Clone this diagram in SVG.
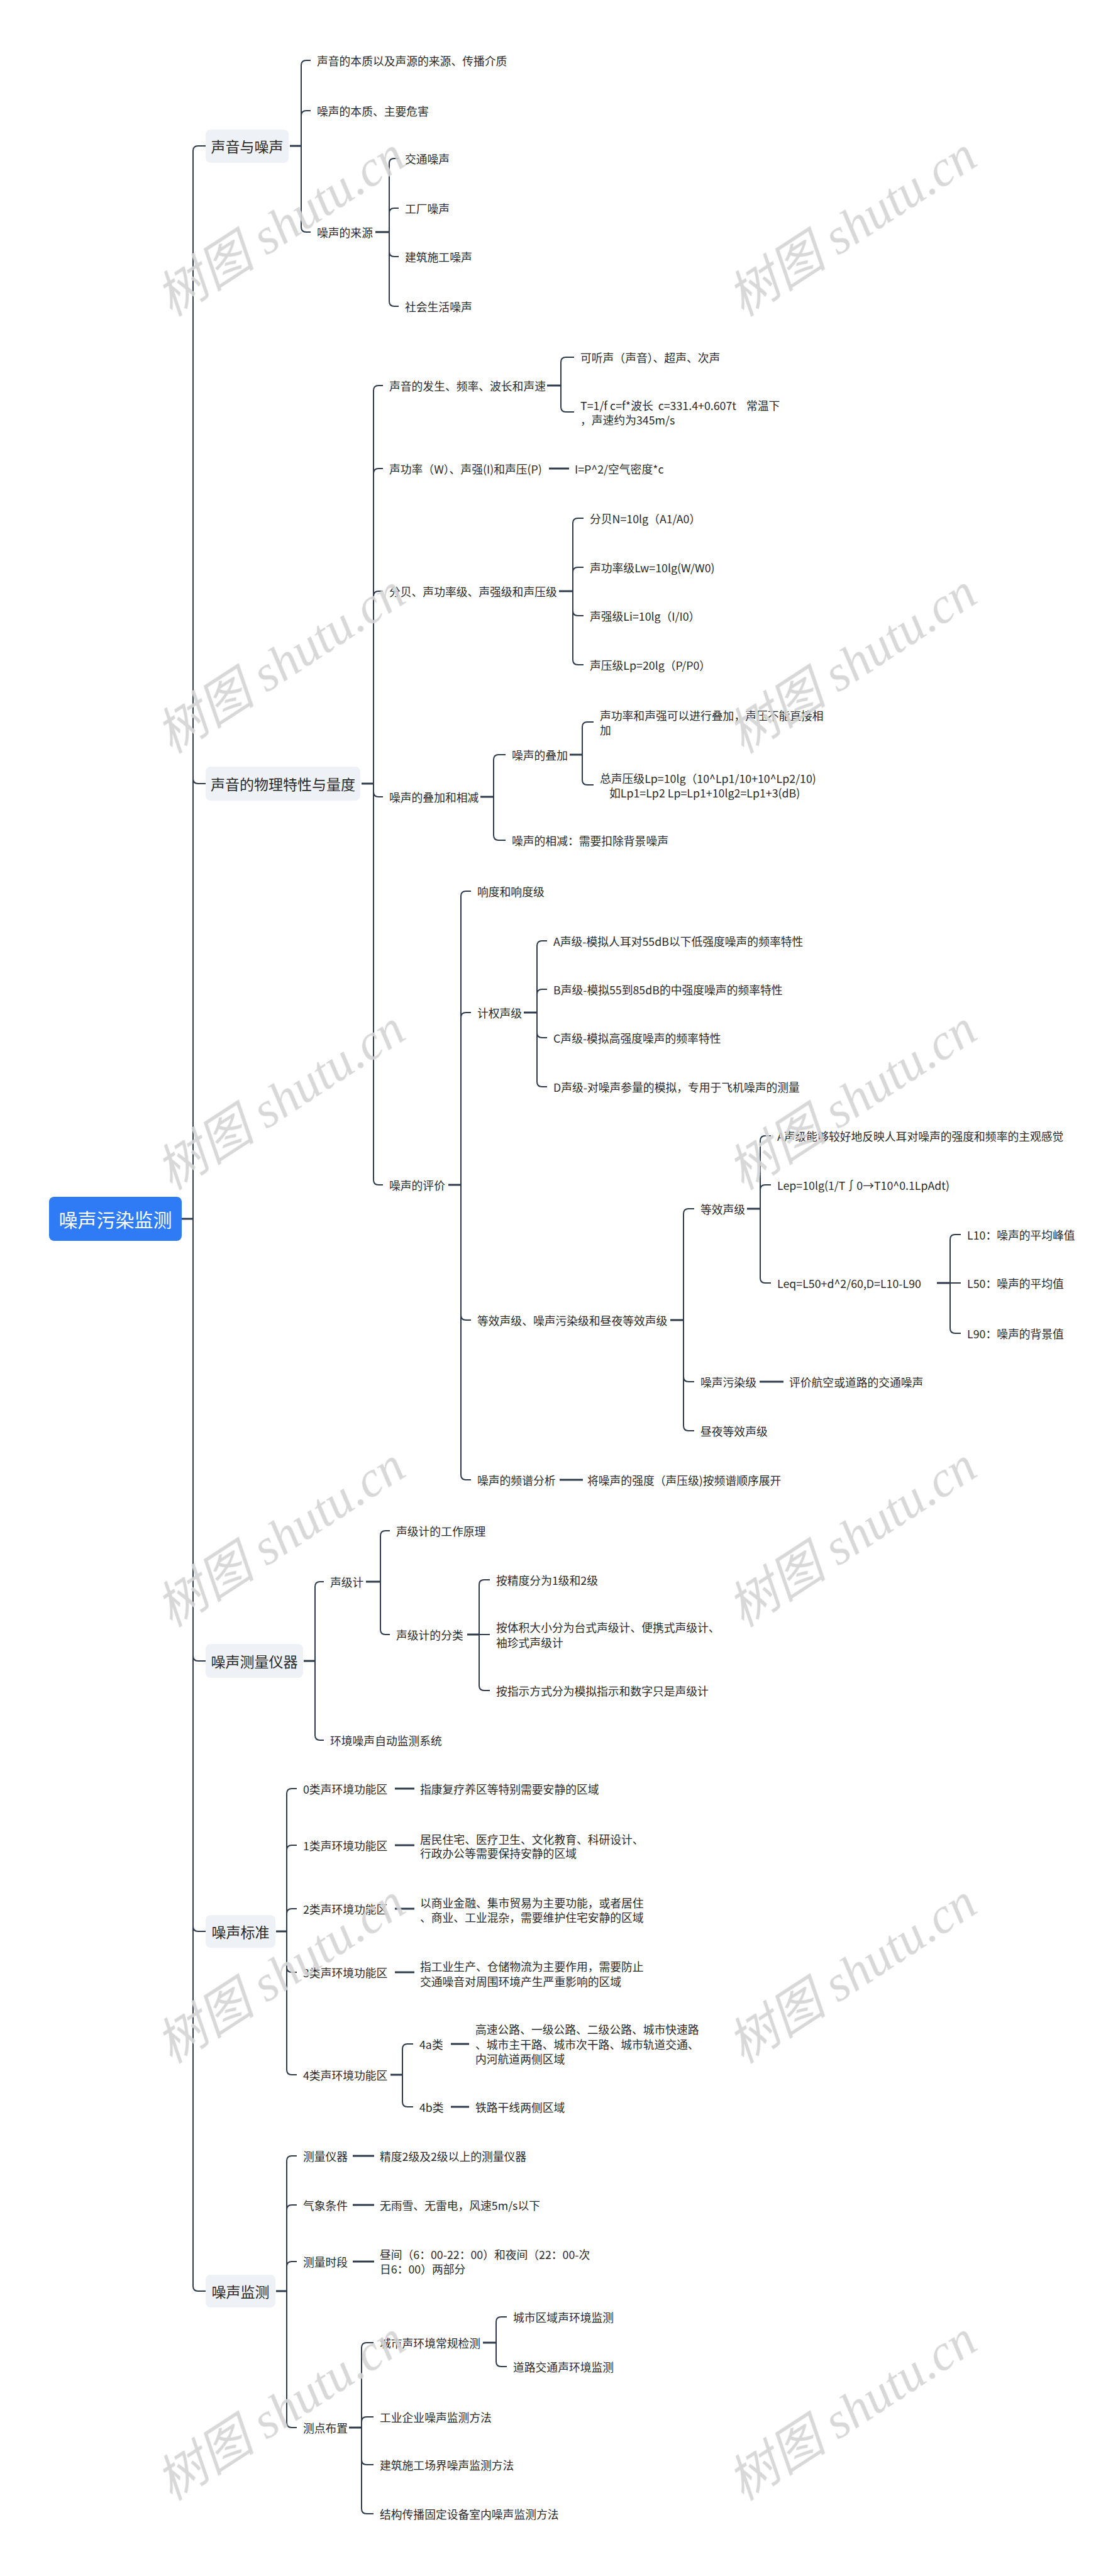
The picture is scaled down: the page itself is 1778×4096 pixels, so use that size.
<svg xmlns="http://www.w3.org/2000/svg" width="1778" height="4096" viewBox="0 0 1778 4096">
<style>
.t{font-family:"Noto Sans CJK SC","Noto Sans",sans-serif;font-size:17.8px;fill:#2a2a2a;dominant-baseline:central}
.t tspan{dominant-baseline:central}
.l1{font-size:23px;text-anchor:middle}
.root{font-size:30px;fill:#ffffff;text-anchor:middle}
.box{fill:#eef1f5}
.c{fill:none;stroke:#2c3a4b;stroke-width:2}
.s{fill:none;stroke:#2c3a4b;stroke-width:3}
.wm{font-family:"Liberation Serif","Noto Sans CJK SC",serif;font-style:italic;font-size:80px;fill:#d4d4d4;text-anchor:middle;dominant-baseline:central}
</style>
<rect width="1778" height="4096" fill="#ffffff"/>
<g id="connectors">
<path class="s" d="M289 1938H307M461 232H479M597 369H619M575 1246H594M870 613H892M873 745H905M889 940H911M764 1267H785M906 1200H926M713 1884H733M833 1610H854M1066 2099H1087M1188 1922H1209M1490 2040H1511M1208 2197H1246M890 2353H927M483 2641H501M582 2515H605M743 2599H762M439 3071H456M628 2844H659M628 2934H659M628 3035H659M628 3136H659M621 3299H640M717 3250H746M717 3350H746M439 3643H456M561 3428H595M561 3506H595M561 3596H595M555 3860H575M768 3725H789"/>
<path class="c" d="M307 1938V240Q307 232 315 232H327M307 1938V1238Q307 1246 315 1246H327M307 1938V2633Q307 2641 315 2641H327M307 1938V3063Q307 3071 315 3071H327M307 1938V3635Q307 3643 315 3643H327"/>
<path class="c" d="M479 232V104Q479 96 487 96H494M479 232V184Q479 176 487 176H494M479 232V361Q479 369 487 369H494"/>
<path class="c" d="M619 369V260Q619 252 627 252H634M619 369V339Q619 331 627 331H634M619 369V400Q619 408 627 408H634M619 369V479Q619 487 627 487H634"/>
<path class="c" d="M594 1246V621Q594 613 602 613H609M594 1246V753Q594 745 602 745H609M594 1246V948Q594 940 602 940H609M594 1246V1259Q594 1267 602 1267H609M594 1246V1876Q594 1884 602 1884H609"/>
<path class="c" d="M892 613V576Q892 568 900 568H913M892 613V647Q892 655 900 655H913"/>
<path class="c" d="M911 940V832Q911 824 919 824H928M911 940V910Q911 902 919 902H928M911 940V971Q911 979 919 979H928M911 940V1049Q911 1057 919 1057H928"/>
<path class="c" d="M785 1267V1208Q785 1200 793 1200H804M785 1267V1328Q785 1336 793 1336H804"/>
<path class="c" d="M926 1200V1156Q926 1148 934 1148H944M926 1200V1240Q926 1248 934 1248H944"/>
<path class="c" d="M733 1884V1425Q733 1417 741 1417H749M733 1884V1618Q733 1610 741 1610H749M733 1884V2091Q733 2099 741 2099H749M733 1884V2345Q733 2353 741 2353H749"/>
<path class="c" d="M854 1610V1504Q854 1496 862 1496H870M854 1610V1581Q854 1573 862 1573H870M854 1610V1642Q854 1650 862 1650H870M854 1610V1720Q854 1728 862 1728H870"/>
<path class="c" d="M1087 2099V1930Q1087 1922 1095 1922H1104M1087 2099V2189Q1087 2197 1095 2197H1104M1087 2099V2267Q1087 2275 1095 2275H1104"/>
<path class="c" d="M1209 1922V1814Q1209 1806 1217 1806H1226M1209 1922V1892Q1209 1884 1217 1884H1226M1209 1922V2032Q1209 2040 1217 2040H1226"/>
<path class="c" d="M1511 2040V1971Q1511 1963 1519 1963H1528M1511 2040H1528M1511 2040V2112Q1511 2120 1519 2120H1528"/>
<path class="c" d="M501 2641V2523Q501 2515 509 2515H515M501 2641V2759Q501 2767 509 2767H515"/>
<path class="c" d="M605 2515V2442Q605 2434 613 2434H620M605 2515V2591Q605 2599 613 2599H620"/>
<path class="c" d="M762 2599V2520Q762 2512 770 2512H779M762 2599H779M762 2599V2680Q762 2688 770 2688H779"/>
<path class="c" d="M456 3071V2852Q456 2844 464 2844H472M456 3071V2942Q456 2934 464 2934H472M456 3071V3043Q456 3035 464 3035H472M456 3071V3128Q456 3136 464 3136H472M456 3071V3291Q456 3299 464 3299H472"/>
<path class="c" d="M640 3299V3258Q640 3250 648 3250H657M640 3299V3342Q640 3350 648 3350H657"/>
<path class="c" d="M456 3643V3436Q456 3428 464 3428H472M456 3643V3514Q456 3506 464 3506H472M456 3643V3604Q456 3596 464 3596H472M456 3643V3852Q456 3860 464 3860H472"/>
<path class="c" d="M575 3860V3733Q575 3725 583 3725H594M575 3860V3851Q575 3843 583 3843H594M575 3860V3911Q575 3919 583 3919H594M575 3860V3989Q575 3997 583 3997H594"/>
<path class="c" d="M789 3725V3692Q789 3684 797 3684H806M789 3725V3755Q789 3763 797 3763H806"/>
</g>
<g id="root"><rect x="78" y="1903" width="211" height="70" rx="8" fill="#2f7bf5"/><text class="t root" x="183.5" y="1938">噪声污染监测</text></g>
<g id="n1"><rect class="box" x="327" y="206" width="132" height="53" rx="8"/><text class="t l1" x="393" y="232">声音与噪声</text></g>
<g id="n1-1"><text class="t" x="504" y="96">声音的本质以及声源的来源、传播介质</text></g>
<g id="n1-2"><text class="t" x="504" y="176">噪声的本质、主要危害</text></g>
<g id="n1-3"><text class="t" x="504" y="369">噪声的来源</text></g>
<g id="n1-3-1"><text class="t" x="644" y="252">交通噪声</text></g>
<g id="n1-3-2"><text class="t" x="644" y="331">工厂噪声</text></g>
<g id="n1-3-3"><text class="t" x="644" y="408">建筑施工噪声</text></g>
<g id="n1-3-4"><text class="t" x="644" y="487">社会生活噪声</text></g>
<g id="n2"><rect class="box" x="327" y="1219" width="246" height="54" rx="8"/><text class="t l1" x="450" y="1246">声音的物理特性与量度</text></g>
<g id="n2-1"><text class="t" x="619" y="613">声音的发生、频率、波长和声速</text></g>
<g id="n2-1-1"><text class="t" x="923" y="568">可听声（声音）、超声、次声</text></g>
<g id="n2-1-2"><text class="t"><tspan x="923" y="644" xml:space="preserve">T=1/f c=f*波长  c=331.4+0.607t    常温下</tspan><tspan x="923" y="667">，声速约为345m/s</tspan></text></g>
<g id="n2-2"><text class="t" x="619" y="745">声功率（W）、声强(I)和声压(P)</text></g>
<g id="n2-2-1"><text class="t" x="914" y="745">I=P^2/空气密度*c</text></g>
<g id="n2-3"><text class="t" x="619" y="940">分贝、声功率级、声强级和声压级</text></g>
<g id="n2-3-1"><text class="t" x="938" y="824">分贝N=10lg（A1/A0）</text></g>
<g id="n2-3-2"><text class="t" x="938" y="902">声功率级Lw=10lg(W/W0)</text></g>
<g id="n2-3-3"><text class="t" x="938" y="979">声强级Li=10lg（I/I0）</text></g>
<g id="n2-3-4"><text class="t" x="938" y="1057">声压级Lp=20lg（P/P0）</text></g>
<g id="n2-4"><text class="t" x="619" y="1267">噪声的叠加和相减</text></g>
<g id="n2-4-1"><text class="t" x="814" y="1200">噪声的叠加</text></g>
<g id="n2-4-1-1"><text class="t"><tspan x="954" y="1137">声功率和声强可以进行叠加，声压不能直接相</tspan><tspan x="954" y="1160">加</tspan></text></g>
<g id="n2-4-1-2"><text class="t"><tspan x="954" y="1237">总声压级Lp=10lg（10^Lp1/10+10^Lp2/10)</tspan><tspan x="969" y="1260">如Lp1=Lp2 Lp=Lp1+10lg2=Lp1+3(dB)</tspan></text></g>
<g id="n2-4-2"><text class="t" x="814" y="1336">噪声的相减：需要扣除背景噪声</text></g>
<g id="n2-5"><text class="t" x="619" y="1884">噪声的评价</text></g>
<g id="n2-5-1"><text class="t" x="759" y="1417">响度和响度级</text></g>
<g id="n2-5-2"><text class="t" x="759" y="1610">计权声级</text></g>
<g id="n2-5-2-1"><text class="t" x="880" y="1496">A声级-模拟人耳对55dB以下低强度噪声的频率特性</text></g>
<g id="n2-5-2-2"><text class="t" x="880" y="1573">B声级-模拟55到85dB的中强度噪声的频率特性</text></g>
<g id="n2-5-2-3"><text class="t" x="880" y="1650">C声级-模拟高强度噪声的频率特性</text></g>
<g id="n2-5-2-4"><text class="t" x="880" y="1728">D声级-对噪声参量的模拟，专用于飞机噪声的测量</text></g>
<g id="n2-5-3"><text class="t" x="759" y="2099">等效声级、噪声污染级和昼夜等效声级</text></g>
<g id="n2-5-3-1"><text class="t" x="1114" y="1922">等效声级</text></g>
<g id="n2-5-3-1-1"><text class="t" x="1236" y="1806">A声级能够较好地反映人耳对噪声的强度和频率的主观感觉</text></g>
<g id="n2-5-3-1-2"><text class="t" x="1236" y="1884">Lep=10lg(1/T∫0→T10^0.1LpAdt)</text></g>
<g id="n2-5-3-1-3"><text class="t" x="1236" y="2040">Leq=L50+d^2/60,D=L10-L90</text></g>
<g id="n2-5-3-1-3-1"><text class="t" x="1538" y="1963">L10：噪声的平均峰值</text></g>
<g id="n2-5-3-1-3-2"><text class="t" x="1538" y="2040">L50：噪声的平均值</text></g>
<g id="n2-5-3-1-3-3"><text class="t" x="1538" y="2120">L90：噪声的背景值</text></g>
<g id="n2-5-3-2"><text class="t" x="1114" y="2197">噪声污染级</text></g>
<g id="n2-5-3-2-1"><text class="t" x="1255" y="2197">评价航空或道路的交通噪声</text></g>
<g id="n2-5-3-3"><text class="t" x="1114" y="2275">昼夜等效声级</text></g>
<g id="n2-5-4"><text class="t" x="759" y="2353">噪声的频谱分析</text></g>
<g id="n2-5-4-1"><text class="t" x="934" y="2353">将噪声的强度（声压级)按频谱顺序展开</text></g>
<g id="n3"><rect class="box" x="327" y="2614" width="155" height="54" rx="8"/><text class="t l1" x="404.5" y="2641">噪声测量仪器</text></g>
<g id="n3-1"><text class="t" x="525" y="2515">声级计</text></g>
<g id="n3-1-1"><text class="t" x="630" y="2434">声级计的工作原理</text></g>
<g id="n3-1-2"><text class="t" x="630" y="2599">声级计的分类</text></g>
<g id="n3-1-2-1"><text class="t" x="789" y="2512">按精度分为1级和2级</text></g>
<g id="n3-1-2-2"><text class="t"><tspan x="789" y="2587">按体积大小分为台式声级计、便携式声级计、</tspan><tspan x="789" y="2611">袖珍式声级计</tspan></text></g>
<g id="n3-1-2-3"><text class="t" x="789" y="2688">按指示方式分为模拟指示和数字只是声级计</text></g>
<g id="n3-2"><text class="t" x="525" y="2767">环境噪声自动监测系统</text></g>
<g id="n4"><rect class="box" x="327" y="3045" width="111" height="52" rx="8"/><text class="t l1" x="382.5" y="3071">噪声标准</text></g>
<g id="n4-0"><text class="t" x="482" y="2844">0类声环境功能区</text></g>
<g id="n4-0-1"><text class="t" x="668" y="2844">指康复疗养区等特别需要安静的区域</text></g>
<g id="n4-1"><text class="t" x="482" y="2934">1类声环境功能区</text></g>
<g id="n4-1-1"><text class="t"><tspan x="668" y="2924">居民住宅、医疗卫生、文化教育、科研设计、</tspan><tspan x="668" y="2946">行政办公等需要保持安静的区域</tspan></text></g>
<g id="n4-2"><text class="t" x="482" y="3035">2类声环境功能区</text></g>
<g id="n4-2-1"><text class="t"><tspan x="668" y="3025">以商业金融、集市贸易为主要功能，或者居住</tspan><tspan x="668" y="3048">、商业、工业混杂，需要维护住宅安静的区域</tspan></text></g>
<g id="n4-3"><text class="t" x="482" y="3136">3类声环境功能区</text></g>
<g id="n4-3-1"><text class="t"><tspan x="668" y="3126">指工业生产、仓储物流为主要作用，需要防止</tspan><tspan x="668" y="3150">交通噪音对周围环境产生严重影响的区域</tspan></text></g>
<g id="n4-4"><text class="t" x="482" y="3299">4类声环境功能区</text></g>
<g id="n4-4-1"><text class="t" x="667" y="3250">4a类</text></g>
<g id="n4-4-1-1"><text class="t"><tspan x="756" y="3226">高速公路、一级公路、二级公路、城市快速路</tspan><tspan x="756" y="3250">、城市主干路、城市次干路、城市轨道交通、</tspan><tspan x="756" y="3273">内河航道两侧区域</tspan></text></g>
<g id="n4-4-2"><text class="t" x="667" y="3350">4b类</text></g>
<g id="n4-4-2-1"><text class="t" x="756" y="3350">铁路干线两侧区域</text></g>
<g id="n5"><rect class="box" x="327" y="3617" width="111" height="52" rx="8"/><text class="t l1" x="382.5" y="3643">噪声监测</text></g>
<g id="n5-1"><text class="t" x="482" y="3428">测量仪器</text></g>
<g id="n5-1-1"><text class="t" x="604" y="3428">精度2级及2级以上的测量仪器</text></g>
<g id="n5-2"><text class="t" x="482" y="3506">气象条件</text></g>
<g id="n5-2-1"><text class="t" x="604" y="3506">无雨雪、无雷电，风速5m/s以下</text></g>
<g id="n5-3"><text class="t" x="482" y="3596">测量时段</text></g>
<g id="n5-3-1"><text class="t"><tspan x="604" y="3584">昼间（6：00-22：00）和夜间（22：00-次</tspan><tspan x="604" y="3607">日6：00）两部分</tspan></text></g>
<g id="n5-4"><text class="t" x="482" y="3860">测点布置</text></g>
<g id="n5-4-1"><text class="t" x="604" y="3725">城市声环境常规检测</text></g>
<g id="n5-4-1-1"><text class="t" x="816" y="3684">城市区域声环境监测</text></g>
<g id="n5-4-1-2"><text class="t" x="816" y="3763">道路交通声环境监测</text></g>
<g id="n5-4-2"><text class="t" x="604" y="3843">工业企业噪声监测方法</text></g>
<g id="n5-4-3"><text class="t" x="604" y="3919">建筑施工场界噪声监测方法</text></g>
<g id="n5-4-4"><text class="t" x="604" y="3997">结构传播固定设备室内噪声监测方法</text></g>
<g id="watermarks" opacity="0.9">
<text class="wm" transform="translate(446 360) rotate(-33)">树图 shutu.cn</text>
<text class="wm" transform="translate(1355 360) rotate(-33)">树图 shutu.cn</text>
<text class="wm" transform="translate(446 1055) rotate(-33)">树图 shutu.cn</text>
<text class="wm" transform="translate(1355 1055) rotate(-33)">树图 shutu.cn</text>
<text class="wm" transform="translate(446 1749) rotate(-33)">树图 shutu.cn</text>
<text class="wm" transform="translate(1355 1749) rotate(-33)">树图 shutu.cn</text>
<text class="wm" transform="translate(446 2444) rotate(-33)">树图 shutu.cn</text>
<text class="wm" transform="translate(1355 2444) rotate(-33)">树图 shutu.cn</text>
<text class="wm" transform="translate(446 3138) rotate(-33)">树图 shutu.cn</text>
<text class="wm" transform="translate(1355 3138) rotate(-33)">树图 shutu.cn</text>
<text class="wm" transform="translate(446 3833) rotate(-33)">树图 shutu.cn</text>
<text class="wm" transform="translate(1355 3833) rotate(-33)">树图 shutu.cn</text>
</g>
</svg>
